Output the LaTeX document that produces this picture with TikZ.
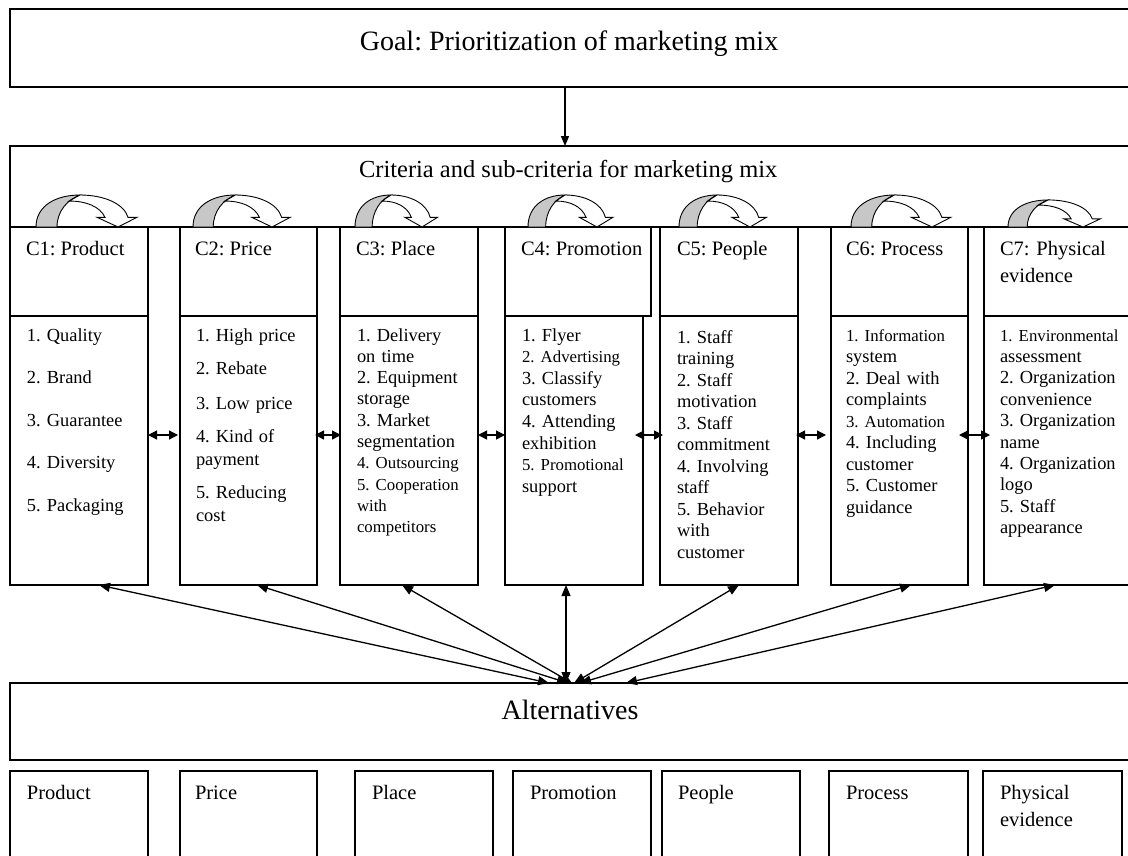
\documentclass[tikz,border=0pt]{standalone}
\usepackage{fontspec}
\setmainfont{Liberation Serif}
\usetikzlibrary{arrows.meta,calc}
\frenchspacing
\newcommand{\smf}{\fontsize{16.8}{21.4}\selectfont}
\newcommand{\itf}{\fontsize{18.4}{21.5}\selectfont}
\newcommand{\hdf}{\fontsize{20.5}{27}\selectfont}
\tikzset{
 bx/.style={draw, rectangle, inner sep=0pt, outer sep=0pt, anchor=north west, line width=1.2pt},
 txt/.style={inner sep=0pt, outer sep=0pt, anchor=base west},
 items/.style={txt, text width=140pt, align=left, font=\itf},
 hdtxt/.style={txt, font=\hdf},
 hdtwo/.style={txt, text width=140pt, align=left, font=\hdf},
 dbl/.style={line width=1.3pt, {Triangle[length=11pt,width=9pt]}-{Triangle[length=11pt,width=9pt]}},
 hdbl/.style={line width=1.3pt, {Triangle[length=9pt,width=9pt]}-{Triangle[length=9pt,width=9pt]}},
 sarr/.style={line width=1.3pt, -{Triangle[length=10pt,width=8pt]}},
 backface/.style={fill=black!22, draw, line width=0.9pt},
 frontface/.style={fill=white, draw, line width=0.9pt},
}
\newcommand{\curvarr}[3]{%
 \begin{scope}[shift={(#1,227)}, xscale=#2, yscale=-#3]
   \path[backface] (0,0) .. controls (0,22) and (20,33) .. (44,33) .. controls (31,28) and (21,16) .. (21,0) -- cycle;
   \path[frontface] (44,33) .. controls (68,33) and (88,24) .. (92,10) -- (101,10) -- (82,0) -- (61,10) -- (69,10) .. controls (64,21) and (50,27) .. (33,26.7) -- cycle;
 \end{scope}}
\begin{document}
\begin{tikzpicture}[x=1pt,y=-1pt]
\useasboundingbox (0,0) rectangle (1128,855);
\fill[white] (0,0) rectangle (1128,855);
\clip (0,0) rectangle (1128,855);

% Goal
\node[bx, minimum width=1140pt, minimum height=78pt] (goal) at (10,9) {};
\node[anchor=base, inner sep=0pt, font={\fontsize{28}{32}\selectfont}] (goaltxt) at (569,50) {Goal: Prioritization of marketing mix};

% Criteria
\node[bx, minimum width=1140pt, minimum height=81pt] (crit) at (10,146) {};
\node[txt, font={\fontsize{24.5}{28}\selectfont}] (crittxt) at (359,177) {Criteria and sub-criteria for marketing mix};
\draw[sarr] ([xshift=-15pt]goal.south) -- ([xshift=-15pt]crit.north);

% header boxes
\node[bx, minimum width=138pt, minimum height=89pt] (c1h) at (10,227) {};
\node[bx, minimum width=137pt, minimum height=89pt] (c2h) at (180,227) {};
\node[bx, minimum width=138pt, minimum height=89pt] (c3h) at (340,227) {};
\node[bx, minimum width=146pt, minimum height=89pt] (c4h) at (505,227) {};
\node[bx, minimum width=138pt, minimum height=89pt] (c5h) at (660,227) {};
\node[bx, minimum width=137pt, minimum height=89pt] (c6h) at (831,227) {};
\node[bx, minimum width=160pt, minimum height=89pt] (c7h) at (984,227) {};

\node[hdtxt] (c1ht) at (26,255) {C1: Product};
\node[hdtxt] (c2ht) at (195,255) {C2: Price};
\node[hdtxt] (c3ht) at (356,255) {C3: Place};
\node[hdtxt] (c4ht) at (521,255) {C4: Promotion};
\node[hdtxt] (c5ht) at (677,255) {C5: People};
\node[hdtxt] (c6ht) at (846,255) {C6: Process};
\node[hdtwo] (c7ht) at (1000,255) {C7: Physical\\ evidence};

% lower boxes
\node[bx, minimum width=138pt, minimum height=269pt] (c1l) at (10,316) {};
\node[bx, minimum width=137pt, minimum height=269pt] (c2l) at (180,316) {};
\node[bx, minimum width=138pt, minimum height=269pt] (c3l) at (340,316) {};
\node[bx, minimum width=138pt, minimum height=269pt] (c4l) at (505,316) {};
\node[bx, minimum width=138pt, minimum height=269pt] (c5l) at (660,316) {};
\node[bx, minimum width=137pt, minimum height=269pt] (c6l) at (831,316) {};
\node[bx, minimum width=160pt, minimum height=269pt] (c7l) at (984,316) {};

\node[items] (c1t) at (27,341) {1. Quality\\[21pt] 2. Brand\\[21pt] 3. Guarantee\\[21pt] 4. Diversity\\[21pt] 5. Packaging};
\node[items, font={\fontsize{18.4}{22.5}\selectfont}] (c2t) at (196,341) {1. High price\\[11pt] 2. Rebate\\[12pt] 3. Low price\\[11pt] 4. Kind of\\ payment\\[11pt] 5. Reducing\\ cost};
\node[items, font={\fontsize{18.4}{21.3}\selectfont}] (c3t) at (357,341) {1. Delivery\\ on time\\ 2. Equipment\\ storage\\ 3. Market\\ segmentation\\ {\smf 4. Outsourcing}\\ {\smf 5. Cooperation}\\ {\smf with}\\ {\smf competitors}};
\node[items, font={\fontsize{18.4}{21.6}\selectfont}] (c4t) at (522,341) {1. Flyer\\ {\smf 2. Advertising}\\ 3. Classify\\ customers\\ 4. Attending\\ exhibition\\ {\smf 5. Promotional}\\ support};
\node[items] (c5t) at (677,343) {1. Staff\\ training\\ 2. Staff\\ motivation\\ 3. Staff\\ commitment\\ 4. Involving\\ staff\\ 5. Behavior\\ with\\ customer};
\node[items] (c6t) at (846,341) {{\smf 1. Information}\\ system\\ 2. Deal with\\ complaints\\ {\smf 3. Automation}\\ 4. Including\\ customer\\ 5. Customer\\ guidance};
\node[items, font={\fontsize{18.4}{21.4}\selectfont}] (c7t) at (1000,341) {{\smf 1. Environmental}\\ assessment\\ 2. Organization\\ convenience\\ 3. Organization\\ name\\ 4. Organization\\ logo\\ 5. Staff\\ appearance};

% curved arrows
\curvarr{36}{1.0}{0.97}
\curvarr{193}{0.963}{0.97}
\curvarr{355}{0.817}{0.97}
\curvarr{528}{0.841}{0.97}
\curvarr{679}{0.866}{0.97}
\curvarr{851}{0.988}{0.97}
\curvarr{1008}{0.915}{0.82}

% horizontal double arrows
\draw[hdbl] ([yshift=15.5pt]c1l.east) -- ([xshift=-2pt,yshift=15.5pt]c2l.west);
\draw[hdbl] ([xshift=-2pt,yshift=15.5pt]c2l.east) -- ([xshift=1pt,yshift=15.5pt]c3l.west);
\draw[hdbl] ([yshift=15.5pt]c3l.east) -- ([yshift=15.5pt]c4l.west);
\draw[hdbl] ([xshift=-8pt,yshift=15.5pt]c4l.east) -- ([xshift=3pt,yshift=15.5pt]c5l.west);
\draw[hdbl] ([xshift=-2pt,yshift=15.5pt]c5l.east) -- ([xshift=-5pt,yshift=15.5pt]c6l.west);
\draw[hdbl] ([xshift=-9pt,yshift=15.5pt]c6l.east) -- ([xshift=6pt,yshift=15.5pt]c7l.west);

% Alternatives
\node[bx, minimum width=1140pt, minimum height=77pt] (alt) at (10,683) {};
\node[anchor=base, inner sep=0pt, font={\fontsize{28}{32}\selectfont}] (alttxt) at (570,719) {Alternatives};

\draw[dbl] ([xshift=89pt]c1l.south west) -- ([xshift=539pt]alt.north west);
\draw[dbl] ([xshift=77pt]c2l.south west) -- ([xshift=558pt]alt.north west);
\draw[dbl] ([xshift=62pt]c3l.south west) -- ([xshift=562pt]alt.north west);
\draw[dbl] ([xshift=61pt]c4l.south west) -- ([xshift=556pt]alt.north west);
\draw[dbl] ([xshift=79pt]c5l.south west) -- ([xshift=564pt]alt.north west);
\draw[dbl] ([xshift=80pt]c6l.south west) -- ([xshift=570pt]alt.north west);
\draw[dbl] ([xshift=71pt]c7l.south west) -- ([xshift=616pt]alt.north west);

% alternative boxes
\node[bx, minimum width=138pt, minimum height=120pt] (a1) at (10,771) {};
\node[bx, minimum width=137pt, minimum height=120pt] (a2) at (180,771) {};
\node[bx, minimum width=138pt, minimum height=120pt] (a3) at (355,771) {};
\node[bx, minimum width=138pt, minimum height=120pt] (a4) at (513,771) {};
\node[bx, minimum width=138pt, minimum height=120pt] (a5) at (662,771) {};
\node[bx, minimum width=139pt, minimum height=120pt] (a6) at (829,771) {};
\node[bx, minimum width=139pt, minimum height=120pt] (a7) at (983,771) {};

\node[hdtxt] (a1t) at (27,799) {Product};
\node[hdtxt] (a2t) at (195,799) {Price};
\node[hdtxt] (a3t) at (372,799) {Place};
\node[hdtxt] (a4t) at (530,799) {Promotion};
\node[hdtxt] (a5t) at (678,799) {People};
\node[hdtxt] (a6t) at (846,799) {Process};
\node[hdtwo] (a7t) at (1000,799) {Physical\\ evidence};
\end{tikzpicture}
\end{document}
